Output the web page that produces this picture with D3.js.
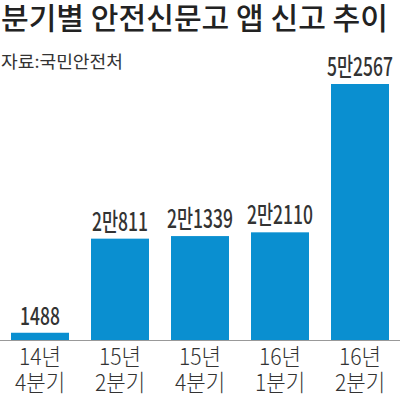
<!DOCTYPE html>
<html>
<head>
<meta charset="utf-8">
<script src="https://cdn.jsdelivr.net/npm/d3@7"></script>
<style>
  html, body { margin: 0; padding: 0; background: #fff; }
  svg { display: block; }
  text { font-family: "Noto Sans CJK KR", "Noto Sans", sans-serif; }
</style>
</head>
<body>
<script>
const width = 400,
	height = 395

const quarters = ["14년|4분기", "15년|2분기", "15년|4분기", "16년|1분기", "16년|2분기"]
const reports = [1488, 20811, 21339, 22110, 52567]
const reportLabels = ["1488", "2만811", "2만1339", "2만2110", "5만2567"]

const barColor = "#0a8fd0"

const svg = d3.select("body")
	.append("svg")
	.attr("width", width)
	.attr("height", height)

// title + source
svg.append("text")
	.attr("x", 1)
	.attr("y", 29)
	.attr("textLength", 387)
	.attr("lengthAdjust", "spacingAndGlyphs")
	.style("font-size", "30px")
	.style("font-weight", 500)
	.attr("fill", "#222")
	.text("분기별 안전신문고 앱 신고 추이")

svg.append("text")
	.attr("x", 1)
	.attr("y", 68)
	.attr("textLength", 122)
	.attr("lengthAdjust", "spacingAndGlyphs")
	.style("font-size", "17px")
	.attr("fill", "#333")
	.text("자료:국민안전처")

const x = d3.scaleBand()
	.domain(quarters)
	.range([0, width])
	.paddingInner(0.275)
	.paddingOuter(0.1375)

const y = d3.scaleLinear()
	.domain([0, d3.max(reports)])
	.range([340, 84])

const data = quarters.map((q, i) => ({ q, v: reports[i], label: reportLabels[i] }))

svg.selectAll("rect.bar")
	.data(data)
	.join("rect")
	.attr("class", "bar")
	.attr("x", d => x(d.q))
	.attr("width", x.bandwidth())
	.attr("y", d => y(d.v))
	.attr("height", d => y(0) - y(d.v))
	.attr("fill", barColor)

// baseline
svg.append("line")
	.attr("x1", 0)
	.attr("x2", width)
	.attr("y1", y(0) + 0.5)
	.attr("y2", y(0) + 0.5)
	.attr("stroke", "#999")
	.attr("stroke-width", 1)

// value labels (condensed)
svg.selectAll("g.val")
	.data(data)
	.join("g")
	.attr("class", "val")
	.attr("transform", d => `translate(${x(d.q) + x.bandwidth() / 2},${y(d.v) - 8}) scale(0.7,1)`)
	.append("text")
	.attr("text-anchor", "middle")
	.style("font-size", "25px")
	.style("font-weight", 500)
	.attr("fill", "#333")
	.text(d => d.label)

// category labels, two lines
const cat = svg.selectAll("g.cat")
	.data(quarters)
	.join("g")
	.attr("class", "cat")
	.attr("transform", d => `translate(${x(d) + x.bandwidth() / 2},0)`)

cat.each(function(d) {
	const lines = d.split("|")
	lines.forEach((t, i) => {
		d3.select(this).append("g")
			.attr("transform", `translate(0,${365 + i * 26}) scale(0.92,1)`)
			.append("text")
			.attr("text-anchor", "middle")
			.style("font-size", "23px")
			.style("font-weight", 300)
			.attr("fill", "#333")
			.text(t)
	})
})
</script>
</body>
</html>
